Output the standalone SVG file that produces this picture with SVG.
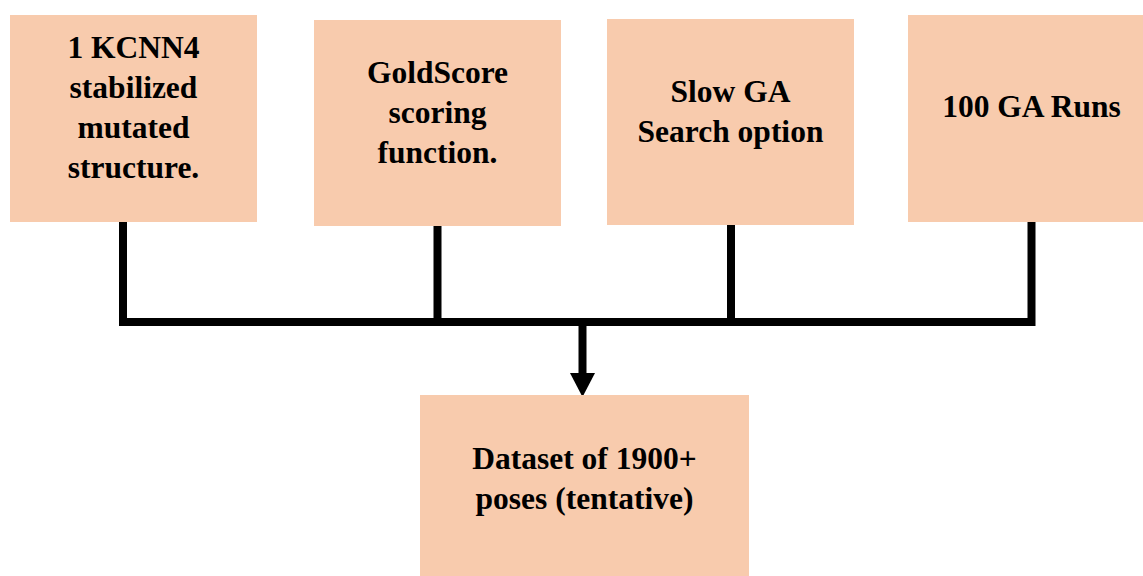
<svg xmlns="http://www.w3.org/2000/svg" width="1143" height="576" viewBox="0 0 1143 576">
<style>
.box{fill:#F8CBAD;}
.t{font-family:"Liberation Serif","Times New Roman",serif;font-weight:bold;font-size:31.5px;fill:#000;text-anchor:middle;}
.ln{stroke:#000;stroke-width:8;fill:none;}
</style>
<rect width="1143" height="576" fill="#fff"/>
<g id="connectors">
<path class="ln" d="M123 222 V322 M437.5 226 V322 M731 225 V322 M1031.5 222 V322 M119 322 H1035.5"/>
<path class="ln" d="M582.5 322 V374"/>
<polygon points="570,373 595,373 582.5,397" fill="#000"/>
</g>
<g id="n1"><rect class="box" x="10" y="15" width="247" height="207"/>
<text class="t" x="133.5" y="58">1 KCNN4</text><text class="t" x="133.5" y="98">stabilized</text><text class="t" x="133.5" y="138">mutated</text><text class="t" x="133.5" y="178">structure.</text></g>
<g id="n2"><rect class="box" x="314" y="20" width="247" height="206"/>
<text class="t" x="437.5" y="83">GoldScore</text><text class="t" x="437.5" y="123">scoring</text><text class="t" x="437.5" y="163">function.</text></g>
<g id="n3"><rect class="box" x="607" y="19" width="247" height="206"/>
<text class="t" x="730.5" y="102">Slow GA</text><text class="t" x="730.5" y="142">Search option</text></g>
<g id="n4"><rect class="box" x="908" y="15" width="247" height="207"/>
<text class="t" x="1031.5" y="117">100 GA Runs</text></g>
<g id="n5"><rect class="box" x="420" y="395" width="329" height="181"/>
<text class="t" x="584.5" y="469">Dataset of 1900+</text><text class="t" x="584.5" y="509">poses (tentative)</text></g>
</svg>
